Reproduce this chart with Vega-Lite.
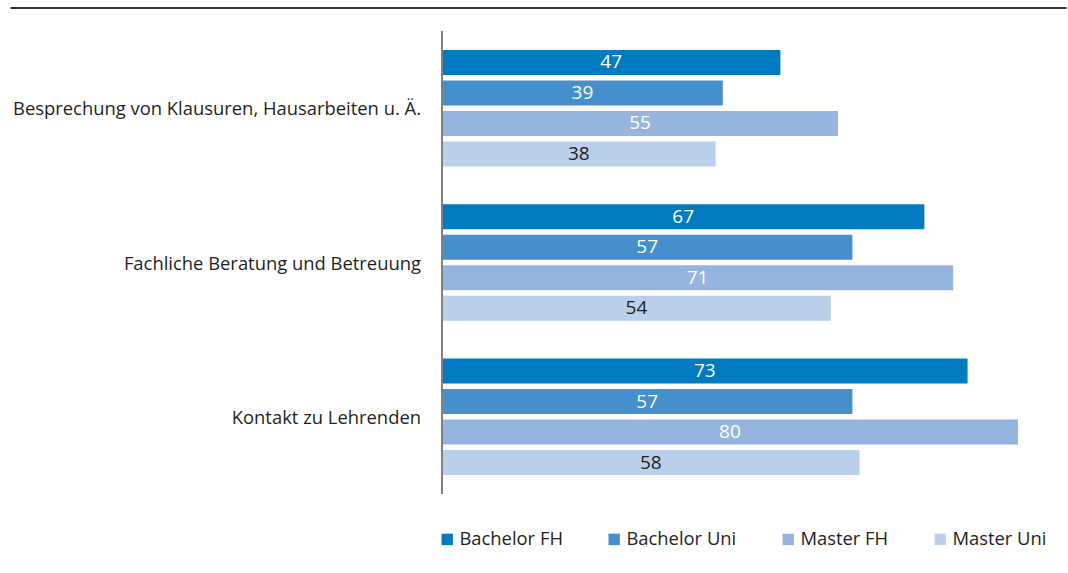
{
  "$schema": "https://vega.github.io/schema/vega-lite/v6.json",
  "width": 1056,
  "height": 463,
  "autosize": {"type": "none"},
  "padding": {"left": 10, "top": 31, "right": 2, "bottom": 79},
  "background": "white",
  "config": {"view": {"stroke": null}, "font": "Open Sans"},
  "data": {
    "values": [
      {"category": "Besprechung von Klausuren, Hausarbeiten u. Ä.", "series": "Bachelor FH", "value": 47},
      {"category": "Besprechung von Klausuren, Hausarbeiten u. Ä.", "series": "Bachelor Uni", "value": 39},
      {"category": "Besprechung von Klausuren, Hausarbeiten u. Ä.", "series": "Master FH", "value": 55},
      {"category": "Besprechung von Klausuren, Hausarbeiten u. Ä.", "series": "Master Uni", "value": 38},
      {"category": "Fachliche Beratung und Betreuung", "series": "Bachelor FH", "value": 67},
      {"category": "Fachliche Beratung und Betreuung", "series": "Bachelor Uni", "value": 57},
      {"category": "Fachliche Beratung und Betreuung", "series": "Master FH", "value": 71},
      {"category": "Fachliche Beratung und Betreuung", "series": "Master Uni", "value": 54},
      {"category": "Kontakt zu Lehrenden", "series": "Bachelor FH", "value": 73},
      {"category": "Kontakt zu Lehrenden", "series": "Bachelor Uni", "value": 57},
      {"category": "Kontakt zu Lehrenden", "series": "Master FH", "value": 80},
      {"category": "Kontakt zu Lehrenden", "series": "Master Uni", "value": 58}
    ]
  },
  "layer": [
    {
      "mark": {"type": "bar"},
      "encoding": {
        "y": {"field": "category", "type": "nominal", "sort": null, "axis": null,
              "scale": {"paddingInner": 0.21, "paddingOuter": 0.105}},
        "yOffset": {"field": "series", "type": "nominal", "sort": ["Bachelor FH", "Bachelor Uni", "Master FH", "Master Uni"],
                    "scale": {"paddingInner": 0.18, "paddingOuter": 0.09}},
        "x": {"field": "value", "type": "quantitative",
              "scale": {"domain": [-60, 86.67], "nice": false, "zero": false},
              "axis": {"orient": "top", "domain": true, "domainColor": "#333333", "domainWidth": 2,
                       "ticks": false, "labels": false, "grid": false, "title": null, "offset": 23.5}},
        "x2": {"datum": 0},
        "color": {"field": "series", "type": "nominal",
                  "scale": {"domain": ["Bachelor FH", "Bachelor Uni", "Master FH", "Master Uni"],
                            "range": ["#007bc2", "#448fcc", "#95b5de", "#bacfe9"]},
                  "legend": {"orient": "none", "legendX": 428, "legendY": 499, "direction": "horizontal",
                             "title": null, "symbolType": "square", "symbolSize": 130, "symbolStrokeWidth": 0,
                             "labelFontSize": 18.4, "labelColor": "#231f20", "columnPadding": 42,
                             "labelOffset": 3, "labelFont": "Open Sans"}}
      }
    },
    {
      "transform": [{"calculate": "datum.value / 2", "as": "mid"}],
      "mark": {"type": "text", "fontSize": 19, "baseline": "middle", "align": "center"},
      "encoding": {
        "y": {"field": "category", "type": "nominal", "sort": null},
        "yOffset": {"field": "series", "type": "nominal", "sort": ["Bachelor FH", "Bachelor Uni", "Master FH", "Master Uni"]},
        "x": {"field": "mid", "type": "quantitative"},
        "text": {"field": "value", "type": "quantitative"},
        "color": {"condition": {"test": "datum.series === 'Master Uni'", "value": "#231f20"}, "value": "white"}
      }
    },
    {
      "data": {"values": [
        {"category": "Besprechung von Klausuren, Hausarbeiten u. Ä."},
        {"category": "Fachliche Beratung und Betreuung"},
        {"category": "Kontakt zu Lehrenden"}
      ]},
      "mark": {"type": "text", "align": "right", "baseline": "middle", "dx": -21, "dy": 1, "fontSize": 18.4, "color": "#231f20"},
      "encoding": {
        "y": {"field": "category", "type": "nominal", "sort": null},
        "x": {"datum": 0},
        "text": {"field": "category"}
      }
    },
    {
      "data": {"values": [{"pos": 0}]},
      "mark": {"type": "rule", "color": "#808080", "strokeWidth": 2},
      "encoding": {"x": {"field": "pos", "type": "quantitative"}}
    }
  ]
}
